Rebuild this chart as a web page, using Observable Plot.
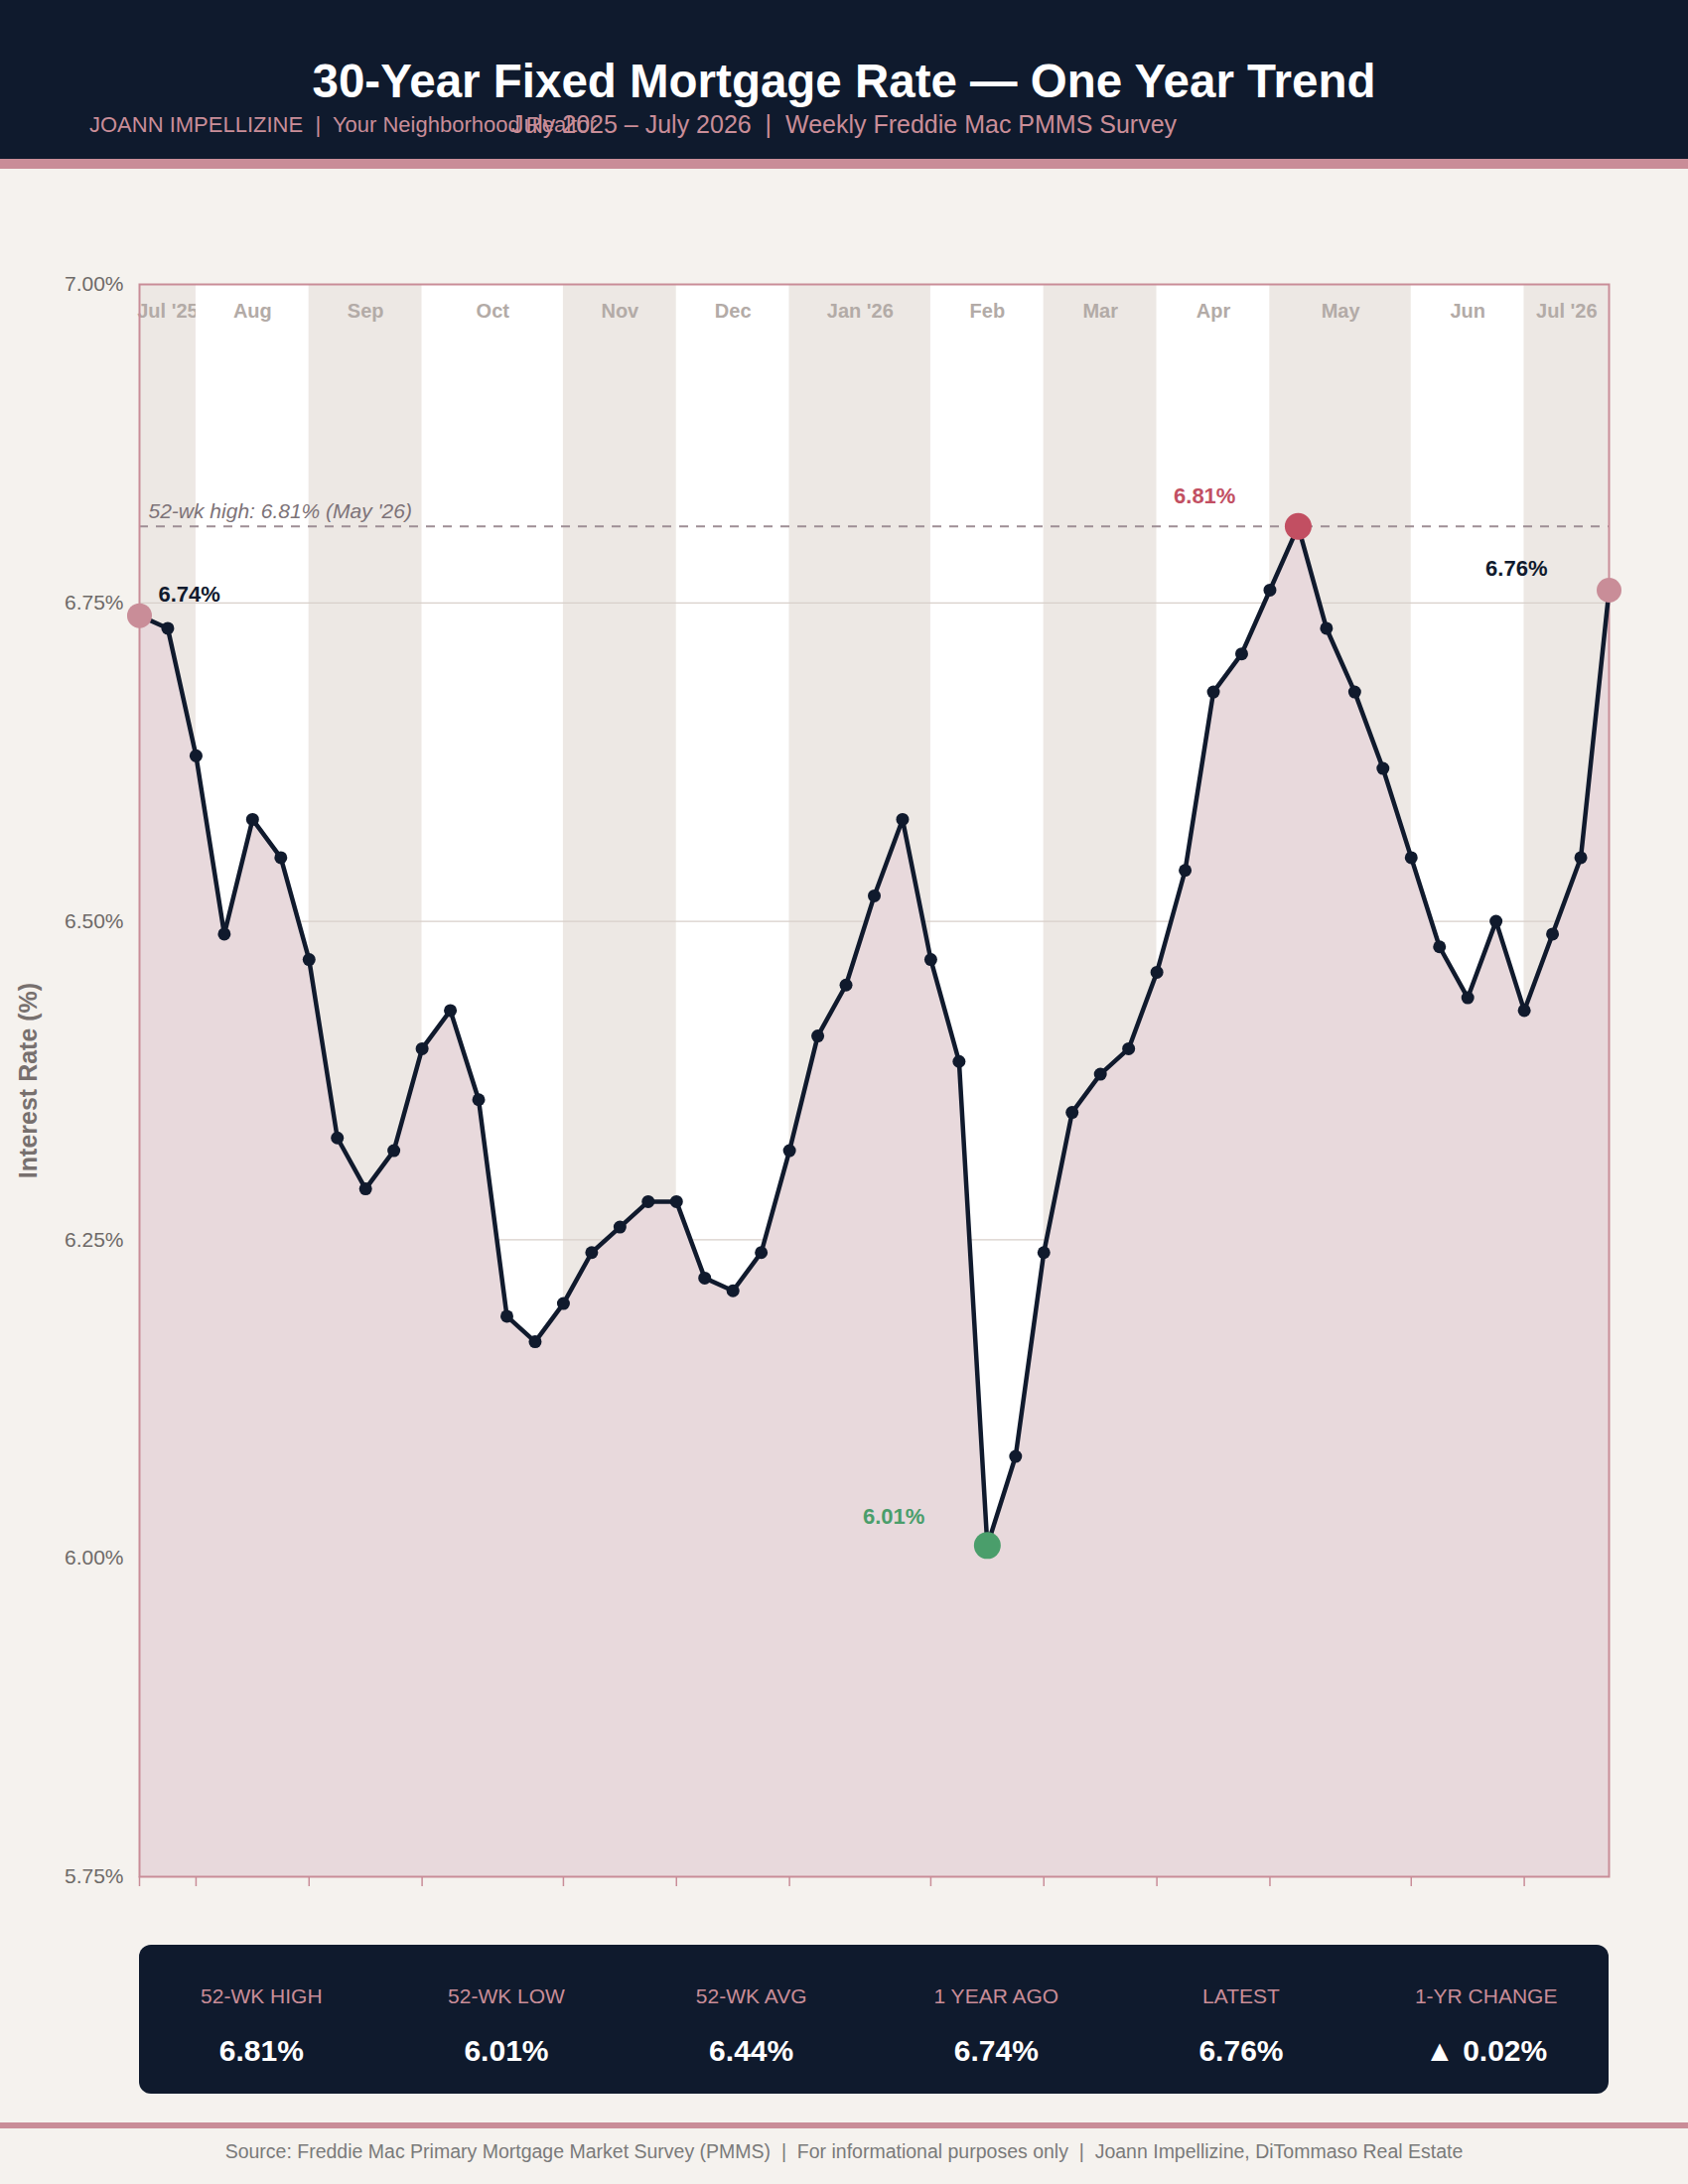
<!DOCTYPE html>
<html>
<head>
<meta charset="utf-8">
<script src="https://cdn.jsdelivr.net/npm/d3@7"></script>
<script src="https://cdn.jsdelivr.net/npm/@observablehq/plot@0.6"></script>
<style>
  html, body { margin: 0; padding: 0; background: #f5f2ee; }
  body { font-family: "Liberation Sans", Arial, Helvetica, sans-serif; }
  #page { position: relative; width: 1700px; height: 2200px; overflow: hidden; background: #f5f2ee; }
  #header { position: absolute; left: 0; top: 0; width: 1700px; height: 160px; background: #0f1a2d; }
  #stripe { position: absolute; left: 0; top: 160px; width: 1700px; height: 10px; background: #c98d98; }
  #title { position: absolute; left: 0; width: 1700px; top: 57.8px; text-align: center; color: #ffffff;
           font-size: 47.5px; line-height: 47.5px; font-weight: bold; white-space: pre; }
  #brand { position: absolute; left: 90px; top: 115.4px; color: #c98d98; font-size: 22px; line-height: 22px; white-space: pre; }
  #subtitle { position: absolute; left: 0; width: 1700px; top: 112.8px; text-align: center; color: #c98d98;
              font-size: 25px; line-height: 25px; white-space: pre; }
  #chart { position: absolute; left: 0; top: 170px; }
  #stats { position: absolute; left: 140px; top: 1959px; width: 1480px; height: 150px; background: #0f1a2d; border-radius: 12px; }
  .stat { position: absolute; top: 0; height: 150px; text-align: center; }
  .stat .lab { position: absolute; left: 0; right: 0; top: 41.2px; font-size: 21px; line-height: 21px; color: #c98d98; white-space: pre; }
  .stat .val { position: absolute; left: 0; right: 0; top: 91.6px; font-size: 30px; line-height: 30px; color: #ffffff; font-weight: bold; white-space: pre; }
  #footline { position: absolute; left: 0; top: 2138px; width: 1700px; height: 6px; background: #c98d98; }
  #footer { position: absolute; left: 0; width: 1700px; top: 2157.5px; text-align: center; color: #7a7a7a;
            font-size: 19.5px; line-height: 19.5px; white-space: pre; }
</style>
</head>
<body>
<div id="page">
  <div id="header"></div>
  <div id="stripe"></div>
  <div id="title"></div>
  <div id="brand"></div>
  <div id="subtitle"></div>
  <div id="chart"></div>
  <div id="stats"></div>
  <div id="footline"></div>
  <div id="footer"></div>
</div>
<script>
// ---------------- DATA ----------------
const titleText = "30-Year Fixed Mortgage Rate \u2014 One Year Trend";
const brandText = "JOANN IMPELLIZINE  |  Your Neighborhood Realtor";
const subtitleText = "July 2025 \u2013 July 2026  |  Weekly Freddie Mac PMMS Survey";
const footerText = "Source: Freddie Mac Primary Mortgage Market Survey (PMMS)  |  For informational purposes only  |  Joann Impellizine, DiTommaso Real Estate";

// Weekly 30-yr fixed rates, week 0 = first week of Jul '25, week 52 = latest (Jul '26)
const rates = [
  6.74, 6.73, 6.63, 6.49, 6.58, 6.55, 6.47, 6.33, 6.29, 6.32,
  6.40, 6.43, 6.36, 6.19, 6.17, 6.20, 6.24, 6.26, 6.28, 6.28,
  6.22, 6.21, 6.24, 6.32, 6.41, 6.45, 6.52, 6.58, 6.47, 6.39,
  6.01, 6.08, 6.24, 6.35, 6.38, 6.40, 6.46, 6.54, 6.68, 6.71,
  6.76, 6.81, 6.73, 6.68, 6.62, 6.55, 6.48, 6.44, 6.50, 6.43,
  6.49, 6.55, 6.76
];
const monthLabels = ["Jul '25", "Aug", "Sep", "Oct", "Nov", "Dec", "Jan '26", "Feb", "Mar", "Apr", "May", "Jun", "Jul '26"];
const monthStartWeek = [0, 2, 6, 10, 15, 19, 23, 28, 32, 36, 40, 45, 49];
const yTicks = [5.75, 6.00, 6.25, 6.50, 6.75, 7.00];
const yDomain = [5.75, 7.00];
const statLabels = ["52-WK HIGH", "52-WK LOW", "52-WK AVG", "1 YEAR AGO", "LATEST", "1-YR CHANGE"];

// ---------------- DERIVED ----------------
const data = rates.map((r, i) => ({week: i, rate: r}));
const lastWeek = rates.length - 1;
const bands = monthLabels.map((m, k) => ({
  label: m,
  start: monthStartWeek[k],
  end: k < monthLabels.length - 1 ? monthStartWeek[k + 1] : lastWeek,
  shade: k % 2 === 0
}));
const high = d3.max(rates), low = d3.min(rates), avg = d3.mean(rates);
const iHigh = rates.indexOf(high), iLow = rates.indexOf(low);
const yearAgo = rates[0], latest = rates[lastWeek];
const change = latest - yearAgo;
const monthOf = w => { let k = 0; monthStartWeek.forEach((s, j) => { if (w >= s) k = j; }); return monthLabels[k]; };
const highMonth = monthOf(iHigh).split(" ")[0] + " '26";
const pct = v => v.toFixed(2) + "%";

// ---------------- HEADER / FOOTER TEXT ----------------
document.getElementById("title").textContent = titleText;
document.getElementById("brand").textContent = brandText;
document.getElementById("subtitle").textContent = subtitleText;
document.getElementById("footer").textContent = footerText;

// ---------------- CHART ----------------
const INK = "#101a2d", PINK = "#c98d98";
const bandMarks = bands.flatMap(b => [
  Plot.rect([b], {x1: "start", x2: "end", y1: yDomain[0], y2: yDomain[1], fill: b.shade ? "#ede8e4" : "#ffffff"}),
  Plot.text([b], {x: d => (d.start + d.end) / 2, frameAnchor: "top", lineAnchor: "bottom", dy: 33,
                  text: "label", fill: "#b3aba7", fontSize: 20, fontWeight: "bold"})
]);

const chart = Plot.plot({
  width: 1700,
  height: 1770,
  marginTop: 116,
  marginBottom: 50,
  marginLeft: 140,
  marginRight: 80,
  style: {background: "transparent", fontFamily: "'Liberation Sans', Arial, Helvetica, sans-serif", overflow: "visible"},
  x: {domain: [0, lastWeek], axis: null},
  y: {domain: yDomain, axis: null},
  marks: [
    ...bandMarks,
    Plot.ruleY(yTicks.slice(1, -1), {stroke: "#d8cfca", strokeWidth: 1.3}),
    Plot.areaY(data, {x: "week", y1: yDomain[0], y2: "rate", fill: "#e8d9dc"}),
    Plot.ruleY([high], {stroke: "#9e8e95", strokeWidth: 2, strokeDasharray: "9,8"}),
    Plot.text([`52-wk high: ${pct(high)} (${highMonth})`], {frameAnchor: "left", y: high, dx: 9, dy: -8,
      lineAnchor: "bottom", textAnchor: "start", fill: "#7d7378", fontSize: 21, fontStyle: "italic"}),
    Plot.frame({stroke: PINK, strokeWidth: 2}),
    Plot.axisX(monthStartWeek, {tickSize: 10, tickFormat: () => "", label: null, stroke: PINK, strokeWidth: 1.5}),
    Plot.axisY(yTicks, {tickSize: 0, tickPadding: 16, tickFormat: d => d.toFixed(2) + "%", label: null, fontSize: 21, fill: "#6e6a68"}),
    Plot.text(["Interest Rate (%)"], {frameAnchor: "left", dx: -112, rotate: -90, textAnchor: "middle",
      fill: "#77706e", fontSize: 25, fontWeight: "bold"}),
    Plot.line(data, {x: "week", y: "rate", stroke: INK, strokeWidth: 4.5, strokeLinejoin: "round"}),
    Plot.dot(data, {x: "week", y: "rate", r: 6.5, fill: INK}),
    Plot.dot([data[0], data[lastWeek]], {x: "week", y: "rate", r: 12.5, fill: PINK}),
    Plot.dot([data[iHigh]], {x: "week", y: "rate", r: 13.5, fill: "#c24f62"}),
    Plot.dot([data[iLow]], {x: "week", y: "rate", r: 13.5, fill: "#4a9e6b"}),
    Plot.text([data[0]], {x: "week", y: "rate", text: d => pct(d.rate), dx: 19, dy: -14, lineAnchor: "bottom",
      textAnchor: "start", fill: INK, fontSize: 22, fontWeight: "bold"}),
    Plot.text([data[lastWeek]], {x: "week", y: "rate", text: d => pct(d.rate), dx: -62, dy: -14, lineAnchor: "bottom",
      textAnchor: "end", fill: INK, fontSize: 22, fontWeight: "bold"}),
    Plot.text([data[iHigh]], {x: "week", y: "rate", text: d => pct(d.rate), dx: -63, dy: -23, lineAnchor: "bottom",
      textAnchor: "end", fill: "#c24f62", fontSize: 22, fontWeight: "bold"}),
    Plot.text([data[iLow]], {x: "week", y: "rate", text: d => pct(d.rate), dx: -63, dy: -22, lineAnchor: "bottom",
      textAnchor: "end", fill: "#4a9e6b", fontSize: 22, fontWeight: "bold"})
  ]
});
document.getElementById("chart").appendChild(chart);

// ---------------- STATS PANEL ----------------
const statValues = [pct(high), pct(low), pct(avg), pct(yearAgo), pct(latest),
                    (change >= 0 ? "\u25B2 " : "\u25BC ") + pct(Math.abs(change))];
const stats = document.getElementById("stats");
const colW = 1480 / statLabels.length;
statLabels.forEach((lab, i) => {
  const d = document.createElement("div");
  d.className = "stat";
  d.style.left = (i * colW) + "px";
  d.style.width = colW + "px";
  const l = document.createElement("div"); l.className = "lab"; l.textContent = lab;
  const v = document.createElement("div"); v.className = "val"; v.textContent = statValues[i];
  d.appendChild(l); d.appendChild(v);
  stats.appendChild(d);
});
</script>
</body>
</html>
